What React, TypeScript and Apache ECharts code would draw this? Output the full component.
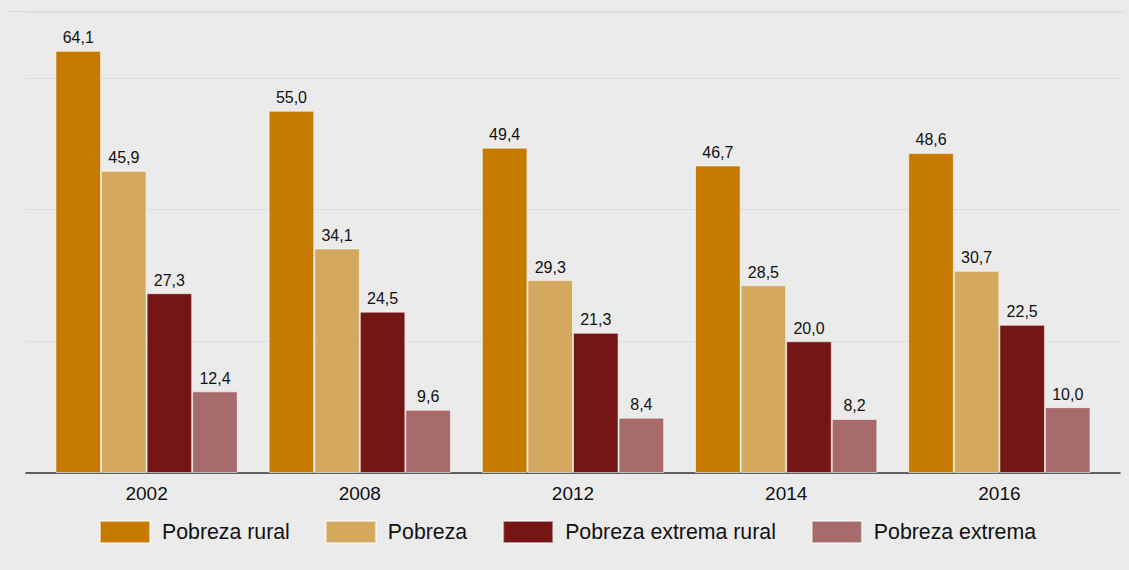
import React, { useEffect, useRef } from "react";
import * as echarts from "echarts";

const years = ["2002", "2008", "2012", "2014", "2016"];
const seriesNames = ["Pobreza rural", "Pobreza", "Pobreza extrema rural", "Pobreza extrema"];
const pobrezaRural = [64.1, 55.0, 49.4, 46.7, 48.6];
const pobreza = [45.9, 34.1, 29.3, 28.5, 30.7];
const extremaRural = [27.3, 24.5, 21.3, 20.0, 22.5];
const extrema = [12.4, 9.6, 8.4, 8.2, 10.0];
const colors = ["#c67b00", "#d4a85f", "#761614", "#a66b6a"];

export default function App() {
  const ref = useRef<HTMLDivElement>(null);
  useEffect(() => {
    document.body.style.margin = "0";
    document.body.style.background = "#ebebeb";
    const chart = echarts.init(ref.current!, undefined, { renderer: "svg" });
    const values = [pobrezaRural, pobreza, extremaRural, extrema];
    const font = "'Liberation Sans', Arial, sans-serif";
    chart.setOption({
      animation: false,
      backgroundColor: "#ebebeb",
      textStyle: { fontFamily: font },
      grid: [
        { left: 26, right: 9, top: 12, bottom: 97 },
        { left: 40, right: 23, top: 12, bottom: 97 },
      ],
      xAxis: [
        {
          type: "category",
          gridIndex: 0,
          data: years,
          axisLine: { show: true, lineStyle: { color: "#333", width: 1.5 } },
          axisTick: { show: false },
          axisLabel: { show: false },
          splitLine: { show: false },
        },
        {
          type: "category",
          gridIndex: 1,
          data: years,
          axisLine: { show: false },
          axisTick: { show: false },
          axisLabel: { color: "#111", fontSize: 19, margin: 11, fontFamily: font },
        },
      ],
      yAxis: [
        {
          type: "value",
          gridIndex: 0,
          min: 0,
          max: 70,
          interval: 20,
          axisLine: { show: false },
          axisTick: { show: false },
          axisLabel: { show: false },
          splitLine: { show: true, lineStyle: { color: "#d8dde2", width: 1 } },
        },
        {
          type: "value",
          gridIndex: 1,
          min: 0,
          max: 70,
          interval: 20,
          show: false,
          splitLine: { show: false },
        },
      ],
      legend: {
        data: seriesNames,
        left: 94,
        top: 515,
        itemWidth: 50,
        itemHeight: 22,
        itemGap: 35,
        icon: "rect",
        textStyle: { fontSize: 21.3, color: "#111", fontFamily: font, padding: [0, 0, 0, 7] },
      },
      graphic: [
        {
          type: "line",
          shape: { x1: 6, y1: 11.5, x2: 1125, y2: 11.5 },
          style: { stroke: "#d8dde2", lineWidth: 1 },
          z: 0,
        },
      ],
      series: seriesNames.map((name, i) => ({
        name,
        type: "bar",
        xAxisIndex: 1,
        yAxisIndex: 1,
        data: values[i],
        barGap: "0%",
        barCategoryGap: "14.5%",
        itemStyle: { color: colors[i], borderColor: "rgba(255,255,255,0.55)", borderWidth: 1 },
        label: {
          show: true,
          position: "top",
          distance: 5,
          fontSize: 16,
          color: "#111",
          fontFamily: font,
          formatter: (p: any) => p.value.toFixed(1).replace(".", ","),
        },
      })),
    });
    return () => chart.dispose();
  }, []);
  return <div ref={ref} style={{ width: 1129, height: 570, background: "#ebebeb" }} />;
}
